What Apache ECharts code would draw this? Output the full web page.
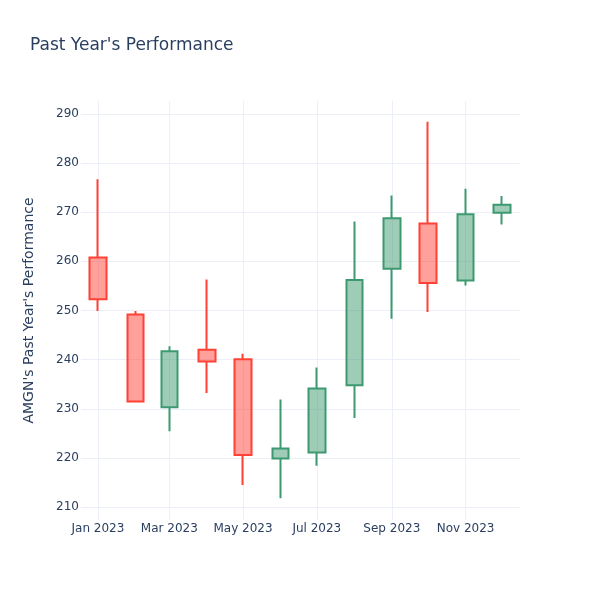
<!DOCTYPE html>
<html>
<head>
<meta charset="utf-8">
<script src="https://cdn.jsdelivr.net/npm/echarts@6/dist/echarts.min.js"></script>
<style>
  html, body { margin: 0; padding: 0; background: #fff; }
  #chart { width: 600px; height: 600px; }
</style>
</head>
<body>
<div id="chart"></div>
<script>
// monthly candles
var months = ['2023-01-01', '2023-02-01', '2023-03-01', '2023-04-01', '2023-05-01', '2023-06-01',
              '2023-07-01', '2023-08-01', '2023-09-01', '2023-10-01', '2023-11-01', '2023-12-01'];
var openVals  = [260.8, 249.2, 230.3, 242.0, 240.1, 219.9, 221.1, 234.8, 258.5, 267.7, 256.1, 269.9];
var closeVals = [252.3, 231.5, 241.7, 239.6, 220.6, 221.9, 234.1, 256.2, 268.8, 255.6, 269.6, 271.5];
var lowVals   = [249.9, 231.5, 225.4, 233.2, 214.5, 211.8, 218.4, 228.1, 248.3, 249.7, 255.1, 267.5];
var highVals  = [276.7, 249.9, 242.7, 256.3, 241.2, 231.9, 238.4, 268.1, 273.4, 288.4, 274.8, 273.3];

var xTicks = ['2023-01-01', '2023-03-01', '2023-05-01', '2023-07-01', '2023-09-01', '2023-11-01'];
var yTicks = [210, 220, 230, 240, 250, 260, 270, 280, 290];

var monthNames = ['Jan', 'Feb', 'Mar', 'Apr', 'May', 'Jun', 'Jul', 'Aug', 'Sep', 'Oct', 'Nov', 'Dec'];
var upLine = '#3D9970', upFill = 'rgba(61,153,112,0.5)';
var downLine = '#FF4136', downFill = 'rgba(255,65,54,0.5)';
var textColor = '#2a3f5f', gridColor = '#EBF0F8';

function toTime(d) { return new Date(d + 'T00:00:00').getTime(); }

var candles = months.map(function (m, i) {
    return [toTime(m), openVals[i], closeVals[i], lowVals[i], highVals[i]];
});
var xTickTimes = xTicks.map(toTime);

var chart = echarts.init(document.getElementById('chart'));
chart.setOption({
    animation: false,
    textStyle: { fontFamily: 'DejaVu Sans' },
    title: {
        text: "Past Year's Performance",
        left: 25,
        top: 32,
        textStyle: { fontSize: 17, fontWeight: 'normal', color: textColor }
    },
    grid: { left: 81, right: 80, top: 101, bottom: 80, containLabel: false },
    xAxis: {
        type: 'value',
        min: new Date(2022, 11, 18, 0).getTime(),
        max: new Date(2023, 11, 16).getTime(),
        axisLine: { show: false },
        axisTick: { show: false, customValues: xTickTimes },
        axisLabel: {
            customValues: xTickTimes,
            color: textColor,
            fontSize: 12,
            margin: 3,
            formatter: function (v) {
                var d = new Date(v);
                return monthNames[d.getMonth()] + ' ' + d.getFullYear();
            }
        },
        splitLine: { show: true, lineStyle: { color: gridColor, width: 1 } }
    },
    yAxis: {
        type: 'value',
        min: 207.36,
        max: 292.64,
        name: "AMGN's Past Year's Performance",
        nameLocation: 'middle',
        nameGap: 45,
        nameTextStyle: { fontSize: 14, color: textColor },
        axisLine: { show: false },
        axisTick: { show: false, customValues: yTicks },
        axisLabel: { customValues: yTicks, color: textColor, fontSize: 12, margin: 2 },
        splitLine: { show: true, lineStyle: { color: gridColor, width: 1 } }
    },
    series: [{
        type: 'candlestick',
        barWidth: 17,
        encode: { x: 0, y: [1, 2, 3, 4] },
        itemStyle: {
            color: upFill,
            color0: downFill,
            borderColor: upLine,
            borderColor0: downLine,
            borderWidth: 2
        },
        data: candles
    }]
});
</script>
</body>
</html>
